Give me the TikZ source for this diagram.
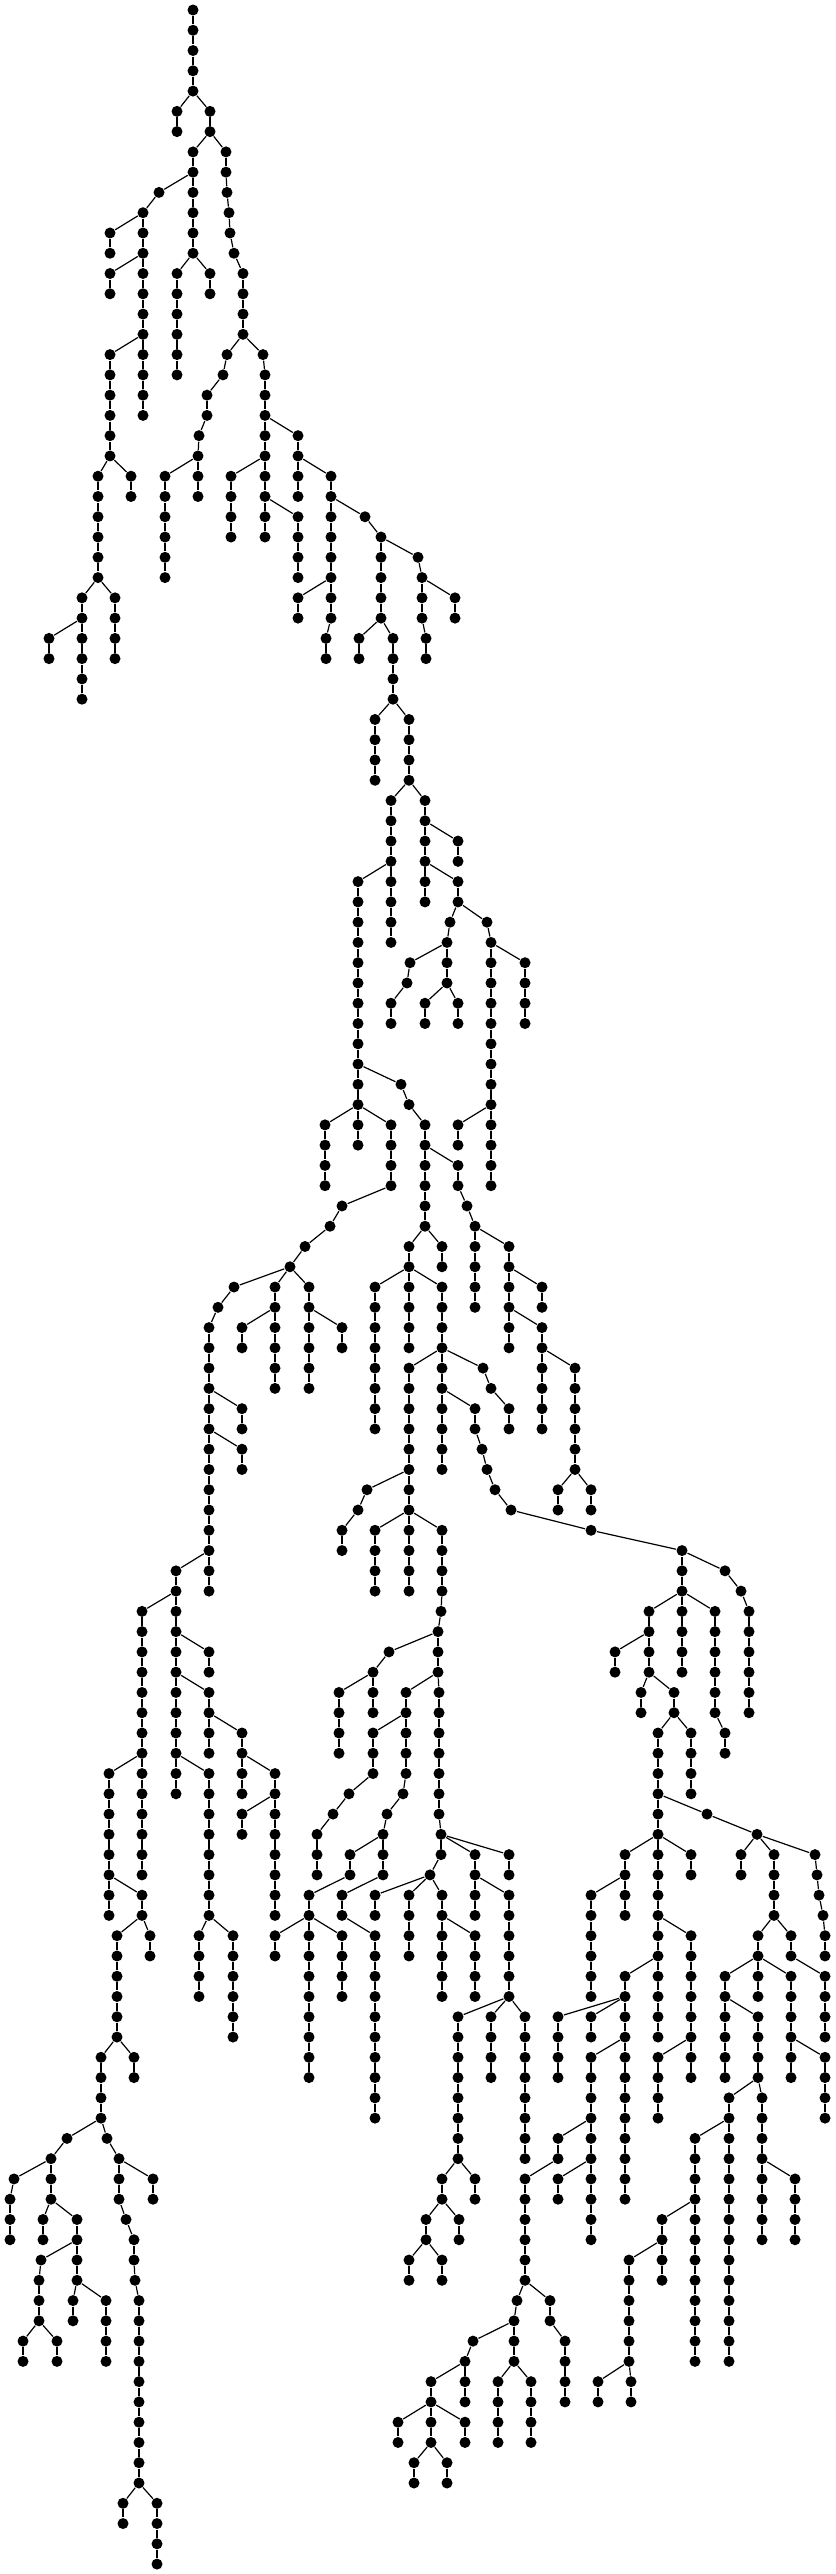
\documentclass[tikz,border=0pt]{standalone}
\begin{document}
\begin{tikzpicture}[x=0.3mm,y=-6.081mm,line width=0.36mm,
	vertex/.style={circle,fill=black,inner sep=0pt,minimum size=3.3mm}]
	\useasboundingbox (0,-0.4933) rectangle (835,126.49);
	\node [vertex] (v0-193) at (193,0) {};
	\foreach \lev/\up/\xs in {
		0/193/{193,193,193,193},
		4/193/{177,177},
		4/193/{210,210},
		6/210/{193,193,193,193,193,193},
		6/210/{226,226,227,229,230,234,243,243,243,243},
		8/193/{159,143,143,143},
		10/143/{110,110},
		12/143/{110,110},
		12/143/{143,143,143,143},
		16/143/{110,110,110,110,110,110},
		16/143/{143,143,143,143},
		22/110/{98,98,98,98,98,98},
		22/110/{131,131},
		28/98/{82,82,82,82,82,82},
		30/82/{49,49},
		28/98/{115,115,115,115},
		12/193/{177,177,177,177,177,177},
		12/193/{210,210},
		16/243/{227,223,207,207,199,198,198,198},
		22/198/{165,165,165,165,165,165},
		16/243/{263,265,265,265,265,265,265,265,265,265},
		20/265/{298,298,298,298},
		22/265/{231,231,231,231},
		24/265/{298,298,298,298},
		22/298/{331,331,331,331,331,331,331,331},
		24/331/{365,381,381,381,381,381},
		28/331/{298,298},
		30/331/{326,326},
		26/381/{418,422,422,422,426,426},
		28/422/{455,455},
		30/381/{359,359},
		30/381/{393,393,393,393},
		34/393/{375,375,375,375},
		34/393/{409,409,409,409},
		38/409/{391,391,391,391,391,391,391,391},
		42/391/{358,358,358,358,358,358,358,358,358,358,358,358},
		38/409/{425,425,425,425,425,425},
		40/425/{458,458},
		42/425/{458,458},
		44/458/{450,447,447,447},
		46/447/{410,407,391,391},
		48/447/{425,425},
		48/447/{458,458},
		44/458/{487,491,491,491,491,491,491,491,491,491},
		46/491/{525,525,525,525},
		54/491/{458,458},
		54/491/{491,491,491,491},
		52/358/{401,409,425,425,425,425,425,425},
		54/358/{325,325,325,325},
		54/358/{358,358},
		54/358/{391,391,391,391,342,330,305,290},
		62/290/{234,218,209,209,209,209,209,209,209,209,209,209,209,209,209,209},
		68/209/{242,242},
		70/209/{242,242},
		62/290/{275,275,275,275,275,275},
		64/275/{242,242},
		62/290/{309,309,309,309,309,309},
		64/309/{342,342},
		56/425/{458,458,467,475,475,475,475,475},
		60/475/{509,509,509,509,509,509},
		62/509/{542,542},
		64/509/{542,542,542,542,542,542},
		66/542/{575,575,575,575,575,575},
		72/575/{558,558},
		72/575/{591,591},
		60/425/{409,409},
		62/409/{375,375,375,375,375,375,375,375},
		62/409/{409,409,409,409},
		62/409/{442,442,442,442},
		60/425/{442,442},
		66/442/{409,409,409,409,409,409,409,409},
		66/442/{442,442,442,442,442,442},
		66/442/{483,491,509,509},
		68/442/{475,475,482,487,495,511,591,682},
		72/409/{367,358,342,342},
		74/409/{375,375,375,375},
		74/409/{409,409,409,409},
		74/409/{442,442,442,442,441,438,438,438},
		80/438/{389,373,373,373},
		82/373/{339,339,339,339},
		82/438/{406,406,406,406,406,403,387,383,383,383},
		84/406/{373,373,373,349,333,317,317,317},
		82/438/{439,439,439,439,439,439,439,441,441,430},
		90/383/{350,350},
		92/350/{309,309,309,309,309,309,309,309,309,309},
		92/383/{342,342},
		94/342/{375,375,375,375,375,375,375,375,375,375},
		94/309/{275,275},
		94/309/{342,342,342,342},
		92/430/{375,375},
		92/430/{409,409,409,409},
		92/430/{442,442,442,442,442,442},
		94/442/{475,475,475,475},
		90/441/{475,475,475,475},
		92/475/{509,509,509,509,509,509},
		90/441/{509,509},
		98/509/{458,458,458,458,458,458,458,458},
		98/509/{491,491,491,491},
		98/509/{525,525,525,525,525,525,525,525},
		106/458/{442,442},
		106/458/{475,475},
		108/442/{426,426},
		108/442/{459,459},
		110/426/{409,409},
		110/426/{442,442},
		76/682/{682,682},
		76/682/{725,741,749,749,749,749,749,749},
		78/682/{649,649,649,649},
		78/682/{682,682,682,682},
		78/682/{715,715,715,715,715,715,725,725},
		80/649/{615,615},
		82/649/{641,641},
		82/649/{674,674},
		84/674/{658,658,658,658,658,658},
		84/674/{691,691,691,691},
		88/658/{707,757},
		90/658/{625,625,625,625},
		90/658/{658,658,658,658,658,658,658,658,658,658},
		90/658/{691,691},
		92/625/{591,591,591,591,591,591},
		94/658/{691,691,691,691,691,691,691,691},
		100/691/{658,658,658,658},
		96/658/{625,625,625,625,625,625,625,625,625,625,625,625},
		98/625/{558,558,558,558},
		98/625/{591,591},
		100/625/{591,591,591,591,591,591,591,591,591,591},
		104/591/{558,558,525,525,525,525,525,525},
		106/591/{558,558},
		112/525/{517,514,514,514},
		114/514/{473,465,465,465},
		116/465/{431,431,431,431},
		118/431/{398,398},
		118/431/{465,465},
		120/431/{414,414},
		120/431/{447,447},
		116/514/{498,498,498,498},
		116/514/{531,531,531,531},
		112/525/{550,550,565,565,565,565},
		90/757/{741,741},
		90/757/{774,774,774,774},
		90/757/{815,817,819,823,825,825},
		94/774/{758,758,758,758},
		94/774/{791,791},
		96/758/{725,725,725,725,725,725},
		98/725/{758,758,758,758},
		96/758/{791,791,791,791,791,791},
		96/791/{825,825,825,825},
		100/791/{825,825,825,825},
		102/758/{729,729,729,729,729,729,729,729,729,729,729,729,729,729},
		102/758/{762,762,762,762,762,762,762,762},
		106/762/{795,795,795,795},
		104/729/{695,695,695,695,695,695,695,695,695,695,695,695},
		108/695/{662,662,662,662},
		110/662/{629,629,629,629,629,629},
		116/629/{598,598},
		116/629/{631,631},
		76/209/{176,176,176,176,176,176,176,176,176,176,176,176},
		78/176/{142,142,142,142,142,142,142,142,142,142,142,142,142,142},
		80/176/{209,209},
		82/176/{209,209,209,209},
		84/209/{242,242,242,242},
		86/242/{275,275,275,275,275,275,275,275},
		88/275/{242,242},
		86/176/{209,209,209,209,209,209,209,209},
		94/209/{199,199,199,199},
		94/209/{233,233,233,233,233,233},
		86/142/{109,109,109,109,109,109,109,109},
		92/109/{142,142},
		94/142/{117,117,117,117,117,117},
		94/142/{150,150},
		100/117/{101,101,101,101},
		100/117/{134,134},
		104/101/{67,51,51,51},
		104/101/{107,119,119,119,126,134,134,135,139,139,139,139,139,139,139,139,139,139},
		106/51/{14,10,10,10},
		108/51/{43,43},
		108/51/{77,77,77,77},
		110/77/{41,39,39,39},
		114/39/{23,23},
		114/39/{57,57},
		112/77/{73,73},
		112/77/{106,106,106,106},
		106/119/{153,153},
		122/139/{123,123},
		122/139/{157,157,157,157}}
	{
		\xdef\curlev{\lev}
		\xdef\prevx{\up}
		\foreach \x in \xs {
			\pgfmathtruncatemacro\nextlev{\curlev+1}
			\node [vertex] (v\nextlev-\x) at (\x,\nextlev) {};
			\draw (v\curlev-\prevx) -- (v\nextlev-\x);
			\xdef\curlev{\nextlev}
			\xdef\prevx{\x}
		}
	}
\end{tikzpicture}
\end{document}
